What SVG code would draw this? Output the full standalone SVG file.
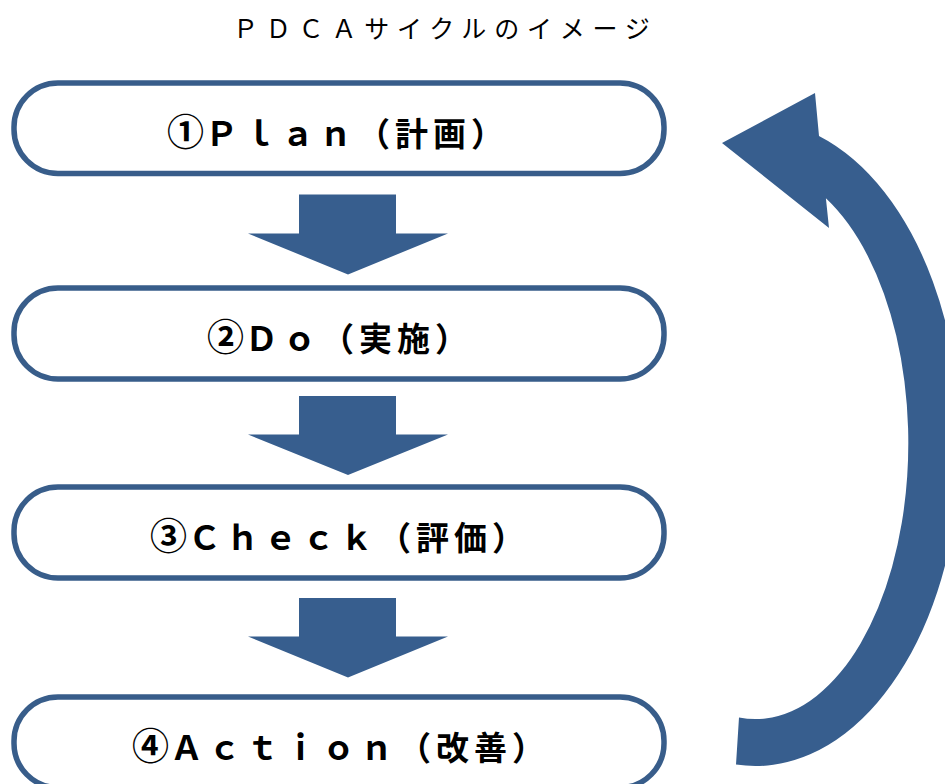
<svg xmlns="http://www.w3.org/2000/svg" width="945" height="784" viewBox="0 0 945 784">
<style>
.box{fill:#ffffff;stroke:#385D8A;stroke-width:5.5}
.arr{fill:#375E8E;stroke:none}
.lbl{font-family:"Noto Sans CJK JP","Liberation Sans",sans-serif;font-weight:bold;font-size:33px;letter-spacing:5px;fill:#000}
.num{font-size:37px}
.ttl{font-family:"Noto Sans CJK JP","Liberation Sans",sans-serif;font-size:25px;letter-spacing:7.8px;fill:#000}
</style>
<rect width="945" height="784" fill="#ffffff"/>
<text id="title" class="ttl" x="233" y="38">ＰＤＣＡサイクルのイメージ</text>
<g id="connectors">
<path class="arr" d="M299,194.5 H396 V233.5 H448 L348,274.5 L248,233.5 H299 Z"/>
<path class="arr" d="M299,396 H396 V434.5 H448 L348,475 L248,434.5 H299 Z"/>
<path class="arr" d="M299,598 H396 V636.5 H448 L348,677.5 L248,636.5 H299 Z"/>
<path class="arr" d="M736,764.6 A205 323 0 0 0 819,136 L815,93 L722,143 L829,228 L825.9,198.2 A153 276 0 0 1 739,717.5 Z"/>
</g>
<g id="plan">
<rect class="box" x="14" y="83" width="650" height="90.5" rx="44" ry="44"/>
<text class="lbl" x="167" y="146"><tspan class="num" letter-spacing="1px">①</tspan>Ｐｌａｎ（計画）</text>
</g>
<g id="do">
<rect class="box" x="14" y="288" width="650" height="91" rx="44" ry="44"/>
<text class="lbl" x="207" y="351"><tspan class="num" letter-spacing="1px">②</tspan>Ｄｏ（実施）</text>
</g>
<g id="check">
<rect class="box" x="14" y="487" width="650" height="91" rx="44" ry="44"/>
<text class="lbl" x="150" y="550"><tspan class="num" letter-spacing="1px">③</tspan>Ｃｈｅｃｋ（評価）</text>
</g>
<g id="action">
<rect class="box" x="14" y="697" width="650" height="90.5" rx="44" ry="44"/>
<text class="lbl" x="132" y="760"><tspan class="num" letter-spacing="1px">④</tspan>Ａｃｔｉｏｎ（改善）</text>
</g>
</svg>
